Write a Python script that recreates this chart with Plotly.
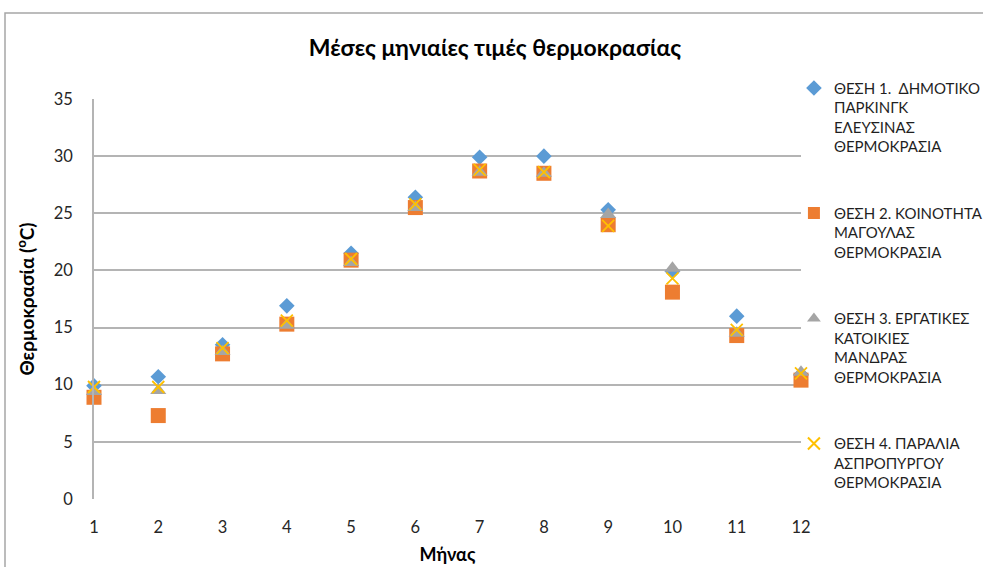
import plotly.graph_objects as go

months = [1, 2, 3, 4, 5, 6, 7, 8, 9, 10, 11, 12]
thesi1 = [9.9, 10.7, 13.5, 16.9, 21.5, 26.4, 29.9, 30.0, 25.3, 19.9, 16.0, 10.9]
thesi2 = [8.9, 7.3, 12.7, 15.3, 20.9, 25.5, 28.7, 28.5, 24.0, 18.1, 14.3, 10.4]
thesi3 = [9.4, 9.5, 12.9, 15.2, 20.7, 25.5, 28.6, 28.5, 24.9, 20.2, 14.5, 11.1]
thesi4 = [9.8, 9.8, 13.2, 15.6, 21.0, 25.8, 28.8, 28.6, 23.9, 19.3, 14.8, 11.0]

names = [
    "ΘΕΣΗ 1.  ΔΗΜΟΤΙΚΟ<br>ΠΑΡΚΙΝΓΚ<br>ΕΛΕΥΣΙΝΑΣ<br>ΘΕΡΜΟΚΡΑΣΙΑ",
    "ΘΕΣΗ 2. ΚΟΙΝΟΤΗΤΑ<br>ΜΑΓΟΥΛΑΣ<br>ΘΕΡΜΟΚΡΑΣΙΑ",
    "ΘΕΣΗ 3. ΕΡΓΑΤΙΚΕΣ<br>ΚΑΤΟΙΚΙΕΣ<br>ΜΑΝΔΡΑΣ<br>ΘΕΡΜΟΚΡΑΣΙΑ",
    "ΘΕΣΗ 4. ΠΑΡΑΛΙΑ<br>ΑΣΠΡΟΠΥΡΓΟΥ<br>ΘΕΡΜΟΚΡΑΣΙΑ",
]
y_ticks = [0, 5, 10, 15, 20, 25, 30, 35]

FONT = "Lato"
fig = go.Figure()
styles = [
    dict(symbol="diamond", size=12, color="#5B9BD5"),
    dict(symbol="square", size=15, color="#ED7D31"),
    dict(symbol="triangle-up", size=14, color="#A5A5A5"),
    dict(symbol="x-thin", size=12, color="#FFC000", line=dict(color="#FFC000", width=1.8)),
]
for i, (vals, nm, st) in enumerate(zip([thesi1, thesi2, thesi3, thesi4], names, styles)):
    fig.add_trace(go.Scatter(
        x=months, y=vals, mode="markers", name=nm, marker=st,
        cliponaxis=False, legendgroup=f"g{i}",
    ))

fig.update_layout(
    width=983, height=567,
    margin=dict(l=94, r=182, t=99, b=68, autoexpand=False),
    paper_bgcolor="white", plot_bgcolor="white",
    font=dict(family=FONT, color="#262626"),
    title=dict(text="<b>Μέσες μηνιαίες τιμές θερμοκρασίας</b>", x=0.5036, xref="container",
               y=1 - 48 / 567, yref="container", xanchor="center", yanchor="middle",
               font=dict(family=FONT, size=23, color="#000000")),
    showlegend=True,
    legend=dict(x=0.99, xanchor="left", y=1.068, yanchor="top", valign="top",
                traceorder="grouped", tracegroupgap=44, maxheight=540,
                font=dict(family=FONT, size=15, color="#1F1F1F"),
                bgcolor="rgba(0,0,0,0)", itemsizing="constant", itemwidth=30),
    xaxis=dict(range=[1, 12], tickvals=months, showgrid=False, zeroline=False,
               showline=False, ticks="", ticklabelstandoff=16, automargin=False,
               tickfont=dict(family=FONT, size=16.5, color="#262626"),
               title=dict(text="<b>Μήνας</b>", standoff=12,
                          font=dict(family=FONT, size=18, color="#000000"))),
    yaxis=dict(range=[0, 35], tickvals=y_ticks, showgrid=True, gridcolor="#B4B4B4",
               gridwidth=1.5, zeroline=False, showline=True, linecolor="#B4B4B4",
               linewidth=1.5, ticks="", ticklabelstandoff=16, automargin=False,
               tickfont=dict(family=FONT, size=16.5, color="#262626"),
               title=dict(text="<b>Θερμοκρασία (<sup>o</sup>C)</b>", standoff=14,
                          font=dict(family=FONT, size=19, color="#000000"))),
)
fig.add_shape(type="rect", xref="paper", yref="paper",
              x0=(5 - 94) / 707, x1=(1000 - 94) / 707,
              y0=(499 - 600) / 400, y1=(499 - 13) / 400,
              line=dict(color="#A6A6A6", width=1.5), fillcolor="rgba(0,0,0,0)", layer="below")

fig.write_html("out.html")
